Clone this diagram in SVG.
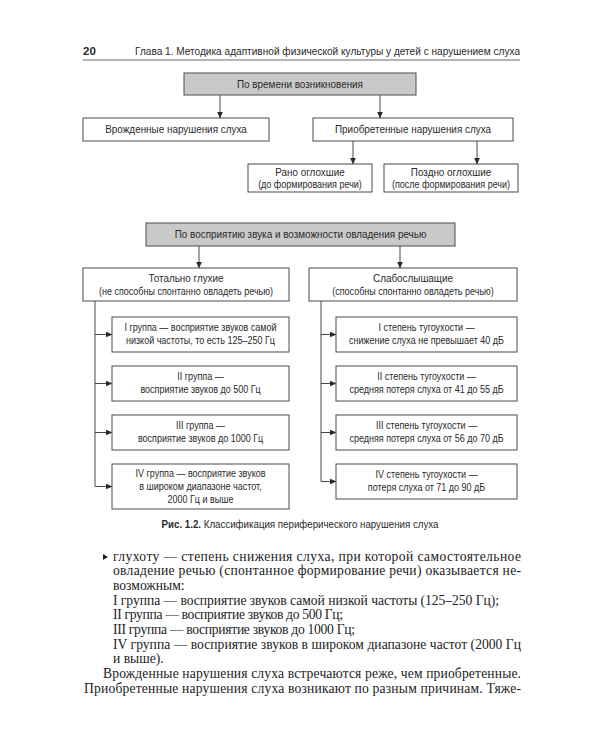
<svg xmlns="http://www.w3.org/2000/svg" width="600" height="750" viewBox="0 0 600 750">
<defs>
<marker id="ah" markerWidth="7" markerHeight="6" refX="6.5" refY="3" orient="auto" markerUnits="userSpaceOnUse">
<path d="M0,0 L7,3 L0,6 Z" fill="#2a2a2a"/>
</marker>
<style>
.bx{fill:#fff;stroke:#4a4a4a;stroke-width:1}
.gr{fill:#c9c9c9;stroke:#4a4a4a;stroke-width:1}
.cn{fill:none;stroke:#333;stroke-width:0.9}
.ar{fill:none;stroke:#333;stroke-width:0.9;marker-end:url(#ah)}
.h{font-family:"Liberation Sans",Arial,sans-serif;fill:#2a2a2a}
.s{font-family:"Liberation Sans",Arial,sans-serif;fill:#2a2a2a;text-anchor:middle;transform-box:fill-box;transform-origin:center;transform:scaleX(0.9)}
.t11{font-size:11px}
.t10{font-size:10px}
.b{font-family:"Liberation Serif","Times New Roman",serif;font-size:13.6px;fill:#222}
</style>
</defs>
<rect width="600" height="750" fill="#fff"/>

<g id="header">
<text class="h" x="83" y="55" font-size="11.5" font-weight="bold">20</text>
<text class="h" x="135" y="55" font-size="11.5" textLength="385" lengthAdjust="spacingAndGlyphs">Глава 1. Методика адаптивной физической культуры у детей с нарушением слуха</text>
<line x1="83" y1="60" x2="520" y2="60" stroke="#9c9c9c" stroke-width="1.6"/>
</g>

<g id="connectors">
<line class="ar" x1="220" y1="95" x2="220" y2="118"/>
<line class="ar" x1="380" y1="95" x2="380" y2="118"/>
<line class="ar" x1="353" y1="141" x2="353" y2="164"/>
<line class="ar" x1="477" y1="141" x2="477" y2="164"/>
<line class="ar" x1="199" y1="246" x2="199" y2="268"/>
<line class="ar" x1="400" y1="246" x2="400" y2="268"/>
<line class="cn" x1="95" y1="301" x2="95" y2="486.5"/>
<line class="ar" x1="95" y1="334.5" x2="112" y2="334.5"/>
<line class="ar" x1="95" y1="383.5" x2="112" y2="383.5"/>
<line class="ar" x1="95" y1="432.5" x2="112" y2="432.5"/>
<line class="ar" x1="95" y1="486.5" x2="112" y2="486.5"/>
<line class="cn" x1="321" y1="301" x2="321" y2="481.5"/>
<line class="ar" x1="321" y1="334.5" x2="336" y2="334.5"/>
<line class="ar" x1="321" y1="383.5" x2="336" y2="383.5"/>
<line class="ar" x1="321" y1="432.5" x2="336" y2="432.5"/>
<line class="ar" x1="321" y1="481.5" x2="336" y2="481.5"/>
</g>

<g id="n-time">
<rect class="gr" x="184" y="73" width="232" height="22"/>
<text class="s t11" x="300" y="88">По времени возникновения</text>
</g>
<g id="n-congenital">
<rect class="bx" x="83" y="118" width="186" height="23"/>
<text class="s t11" x="176" y="133.5">Врожденные нарушения слуха</text>
</g>
<g id="n-acquired">
<rect class="bx" x="313" y="118" width="200" height="23"/>
<text class="s t11" x="413" y="133.5">Приобретенные нарушения слуха</text>
</g>
<g id="n-early">
<rect class="bx" x="248" y="164" width="124" height="28"/>
<text class="s t11" x="310" y="176.5">Рано оглохшие</text>
<text class="s t10" x="310" y="188.5">(до формирования речи)</text>
</g>
<g id="n-late">
<rect class="bx" x="384" y="164" width="134" height="28"/>
<text class="s t11" x="451" y="176.5">Поздно оглохшие</text>
<text class="s t10" x="451" y="188.5">(после формирования речи)</text>
</g>

<g id="n-perception">
<rect class="gr" x="146" y="223" width="309" height="23"/>
<text class="s t11" x="300.5" y="238.5">По восприятию звука и возможности овладения речью</text>
</g>
<g id="n-deaf">
<rect class="bx" x="83" y="268" width="206" height="33"/>
<text class="s t11" x="186" y="282">Тотально глухие</text>
<text class="s t10" x="186" y="295.5">(не способны спонтанно овладеть речью)</text>
</g>
<g id="n-hoh">
<rect class="bx" x="309" y="268" width="208" height="33"/>
<text class="s t11" x="413" y="282">Слабослышащие</text>
<text class="s t10" x="413" y="295.5">(способны спонтанно овладеть речью)</text>
</g>

<g id="n-g1">
<rect class="bx" x="112" y="317" width="177" height="35"/>
<text class="s t10" x="200.5" y="331">I группа — восприятие звуков самой</text>
<text class="s t10" x="200.5" y="344">низкой частоты, то есть 125–250 Гц</text>
</g>
<g id="n-g2">
<rect class="bx" x="112" y="366" width="177" height="35"/>
<text class="s t10" x="200.5" y="380">II группа —</text>
<text class="s t10" x="200.5" y="393">восприятие звуков до 500 Гц</text>
</g>
<g id="n-g3">
<rect class="bx" x="112" y="415" width="177" height="35"/>
<text class="s t10" x="200.5" y="429">III группа —</text>
<text class="s t10" x="200.5" y="442">восприятие звуков до 1000 Гц</text>
</g>
<g id="n-g4">
<rect class="bx" x="112" y="464" width="177" height="45"/>
<text class="s t10" x="200.5" y="477">IV группа — восприятие звуков</text>
<text class="s t10" x="200.5" y="490">в широком диапазоне частот,</text>
<text class="s t10" x="200.5" y="503">2000 Гц и выше</text>
</g>

<g id="n-d1">
<rect class="bx" x="336" y="317" width="181" height="35"/>
<text class="s t10" x="426.5" y="331">I степень тугоухости —</text>
<text class="s t10" x="426.5" y="344">снижение слуха не превышает 40 дБ</text>
</g>
<g id="n-d2">
<rect class="bx" x="336" y="366" width="181" height="35"/>
<text class="s t10" x="426.5" y="380">II степень тугоухости —</text>
<text class="s t10" x="426.5" y="393">средняя потеря слуха от 41 до 55 дБ</text>
</g>
<g id="n-d3">
<rect class="bx" x="336" y="415" width="181" height="35"/>
<text class="s t10" x="426.5" y="429">III степень тугоухости —</text>
<text class="s t10" x="426.5" y="442">средняя потеря слуха от 56 до 70 дБ</text>
</g>
<g id="n-d4">
<rect class="bx" x="336" y="464" width="181" height="35"/>
<text class="s t10" x="426.5" y="478">IV степень тугоухости —</text>
<text class="s t10" x="426.5" y="491">потеря слуха от 71 до 90 дБ</text>
</g>

<g id="caption">
<text class="s" x="300" y="528" font-size="10.8"><tspan font-weight="bold">Рис. 1.2.</tspan> Классификация периферического нарушения слуха</text>
</g>

<g id="body">
<path d="M103,554 L108,557 L103,560 Z" fill="#222"/>
<text class="b" x="113" y="560.5" textLength="408" lengthAdjust="spacing">глухоту — степень снижения слуха, при которой самостоятельное</text>
<text class="b" x="113" y="575.2" textLength="408" lengthAdjust="spacing">овладение речью (спонтанное формирование речи) оказывается не-</text>
<text class="b" x="113" y="589.9">возможным:</text>
<text class="b" x="113" y="604.6" textLength="386" lengthAdjust="spacing">I группа — восприятие звуков самой низкой частоты (125–250 Гц);</text>
<text class="b" x="113" y="619.3" textLength="230" lengthAdjust="spacing">II группа — восприятие звуков до 500 Гц;</text>
<text class="b" x="113" y="634" textLength="242" lengthAdjust="spacing">III группа — восприятие звуков до 1000 Гц;</text>
<text class="b" x="113" y="648.7" textLength="408" lengthAdjust="spacing">IV группа — восприятие звуков в широком диапазоне частот (2000 Гц</text>
<text class="b" x="113" y="663.4">и выше).</text>
<text class="b" x="103" y="678.1" textLength="418" lengthAdjust="spacing">Врожденные нарушения слуха встречаются реже, чем приобретенные.</text>
<text class="b" x="84" y="692.8" textLength="437" lengthAdjust="spacing">Приобретенные нарушения слуха возникают по разным причинам. Тяже-</text>
</g>
</svg>
